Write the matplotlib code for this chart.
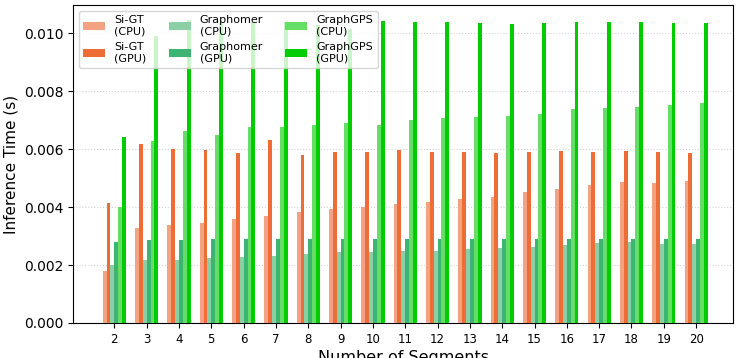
import numpy as np
import matplotlib
matplotlib.use('Agg')
from matplotlib import pyplot as plt
from matplotlib.ticker import FormatStrFormatter

# number of segments
segments = list(range(2, 21))

# inference times, in seconds
sigt_cpu = [0.00180, 0.00328, 0.00337, 0.00344, 0.00359, 0.00370, 0.00384, 0.00392, 0.00400, 0.00410,
            0.00418, 0.00428, 0.00434, 0.00453, 0.00463, 0.00476, 0.00486, 0.00483, 0.00491]
sigt_gpu = [0.00415, 0.00617, 0.00600, 0.00598, 0.00587, 0.00632, 0.00580, 0.00592, 0.00589, 0.00598,
            0.00591, 0.00591, 0.00586, 0.00591, 0.00594, 0.00591, 0.00594, 0.00591, 0.00586]
graphomer_cpu = [0.00199, 0.00218, 0.00216, 0.00225, 0.00229, 0.00232, 0.00238, 0.00244, 0.00244, 0.00247,
                 0.00247, 0.00254, 0.00259, 0.00263, 0.00268, 0.00275, 0.00279, 0.00271, 0.00274]
graphomer_gpu = [0.00280, 0.00285, 0.00285, 0.00291, 0.00291, 0.00291, 0.00291, 0.00291, 0.00291, 0.00291,
                 0.00291, 0.00291, 0.00289, 0.00291, 0.00290, 0.00290, 0.00290, 0.00291, 0.00290]
graphgps_cpu = [0.00400, 0.00629, 0.00663, 0.00649, 0.00677, 0.00677, 0.00684, 0.00691, 0.00685, 0.00702,
                0.00709, 0.00711, 0.00716, 0.00721, 0.00738, 0.00743, 0.00746, 0.00753, 0.00759]
graphgps_gpu = [0.00641, 0.00990, 0.01045, 0.01035, 0.01040, 0.01040, 0.01030, 0.01015, 0.01043, 0.01040,
                0.01038, 0.01036, 0.01033, 0.01036, 0.01038, 0.01041, 0.01038, 0.01037, 0.01036]

labels = ['Si-GT\n(CPU)', 'Si-GT\n(GPU)', 'Graphomer\n(CPU)', 'Graphomer\n(GPU)',
          'GraphGPS\n(CPU)', 'GraphGPS\n(GPU)']
colors = ['#F4A382', '#EE6C36', '#8BCFA5', '#3DB572', '#66DD66', '#00CC00']
series = [sigt_cpu, sigt_gpu, graphomer_cpu, graphomer_gpu, graphgps_cpu, graphgps_gpu]

fig, ax = plt.subplots(figsize=(7.37, 3.58), dpi=100)
fig.subplots_adjust(left=0.099, right=0.995, top=0.986, bottom=0.098)

x = np.array(segments)
width = 0.12
for i, (vals, col, lab) in enumerate(zip(series, colors, labels)):
    ax.bar(x + (i - 2.5) * width, vals, width, color=col, label=lab, zorder=3)

ax.set_xticks(x)
ax.set_xticklabels([str(s) for s in segments], fontsize=8.5)
ax.tick_params(axis='y', labelsize=10)
ax.yaxis.set_major_formatter(FormatStrFormatter('%.3f'))
ax.set_xlim(0.72, 21.15)
ax.set_ylim(0, 0.01098)
ax.grid(axis='y', linestyle=':', color='lightgray', linewidth=0.8, zorder=0)

ax.set_xlabel('Number of Segments', fontsize=11.5, labelpad=3)
ax.set_ylabel('Inference Time (s)', fontsize=11)
ax.legend(loc='upper left', ncol=3, fontsize=8)

plt.savefig('out.png', dpi=100)
